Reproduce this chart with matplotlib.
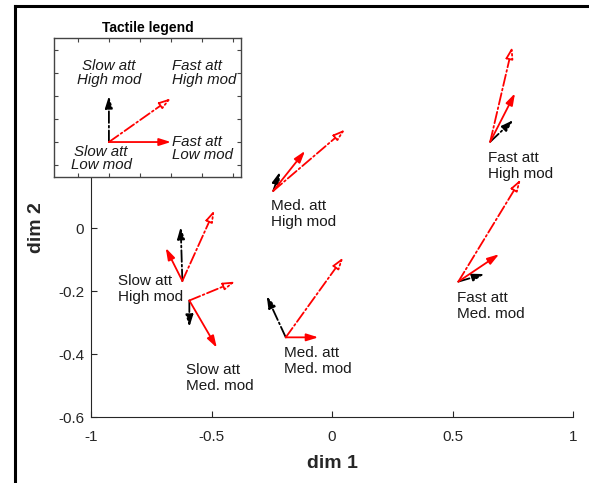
import matplotlib
matplotlib.use("Agg")
import matplotlib.pyplot as plt
from matplotlib.lines import Line2D

plt.rcParams['font.family'] = ['Liberation Sans', 'DejaVu Sans']

# condition names and where the vectors start
labels = ["Slow att\nHigh mod", "Slow att\nMed. mod", "Med. att\nHigh mod",
          "Med. att\nMed. mod", "Fast att\nMed. mod", "Fast att\nHigh mod"]
origin_x = [-0.621, -0.592, -0.244, -0.192, 0.524, 0.656]
origin_y = [-0.168, -0.230, 0.118, -0.347, -0.170, 0.274]

# arrow tips: black dash-dot (slow att, high mod)
black_x = [-0.628, -0.592, -0.216, -0.271, 0.632, 0.752]
black_y = [0.004, -0.314, 0.179, -0.216, -0.146, 0.343]
# red solid (fast att, low mod)
solid_x = [-0.690, -0.478, -0.112, -0.057, 0.693, 0.759]
solid_y = [-0.063, -0.380, 0.245, -0.347, -0.083, 0.428]
# red dash-dot (fast att, high mod)
dash_x = [-0.488, -0.402, 0.054, 0.047, 0.783, 0.748]
dash_y = [0.057, -0.170, 0.313, -0.093, 0.155, 0.576]

# label anchor points
label_x = [-0.888, -0.606, -0.254, -0.198, 0.520, 0.649]
label_y = [-0.194, -0.476, 0.044, -0.422, -0.248, 0.197]

xticks = [-1, -0.5, 0, 0.5, 1]
xticklabels = ['-1', '-0.5', '0', '0.5', '1']
yticks = [-0.6, -0.4, -0.2, 0]
yticklabels = ['-0.6', '-0.4', '-0.2', '0']

# legend panel
leg_origin = (1, 1)
leg_tips = {'black': (1, 3), 'solid': (3, 1), 'dash': (3, 2.9)}


def arrow(ax, start, end, color, ls, filled=True):
    ax.annotate('', xy=end, xytext=start,
                arrowprops=dict(arrowstyle='-|>,head_length=0.7,head_width=0.22',
                                color=color, fc=color if filled else 'white',
                                lw=1.3, ls=ls, shrinkA=0, shrinkB=0,
                                mutation_scale=10))


fig = plt.figure(figsize=(5.89, 4.83), dpi=100)

ax = fig.add_axes([0.1545, 0.1366, 0.8185, 0.7824])
for i in range(len(labels)):
    o = (origin_x[i], origin_y[i])
    arrow(ax, o, (black_x[i], black_y[i]), 'black', '-.')
    arrow(ax, o, (solid_x[i], solid_y[i]), 'red', '-')
    arrow(ax, o, (dash_x[i], dash_y[i]), 'red', '-.', filled=False)
    ax.text(label_x[i], label_y[i], labels[i], fontsize=11, ha='left',
            va='center', linespacing=1.2, color='#1a1a1a')

ax.set_xlim(-1, 1)
ax.set_ylim(-0.6, 0.6)
ax.set_xticks(xticks)
ax.set_xticklabels(xticklabels)
ax.set_yticks(yticks)
ax.set_yticklabels(yticklabels)
ax.tick_params(direction='in', length=4, labelsize=11, colors='#262626')
ax.tick_params(axis='x', pad=9)
ax.tick_params(axis='y', pad=5)
ax.spines['top'].set_visible(False)
ax.spines['right'].set_visible(False)
for s in ['left', 'bottom']:
    ax.spines[s].set_color('#262626')
    ax.spines[s].set_linewidth(0.8)
ax.set_xlabel('dim 1', fontsize=14, fontweight='bold', color='#262626', labelpad=8)
ax.set_ylabel('dim 2', fontsize=14, fontweight='bold', color='#262626', labelpad=9)

# inset legend
ins = fig.add_axes([0.0917, 0.6335, 0.3175, 0.2878])
ins.set_xlim(-0.77, 5.26)
ins.set_ylim(-0.52, 5.52)
ins.set_xticks(range(6))
ins.set_yticks(range(6))
ins.tick_params(direction='in', length=3, labelbottom=False, labelleft=False,
                top=True, right=True, colors='#444444')
for s in ins.spines.values():
    s.set_color('#444444')
    s.set_linewidth(1.0)
arrow(ins, leg_origin, leg_tips['black'], 'black', '-.')
arrow(ins, leg_origin, leg_tips['solid'], 'red', '-')
arrow(ins, leg_origin, leg_tips['dash'], 'red', '-.', filled=False)
ital = dict(style='italic', fontsize=10.8, va='center', linespacing=0.92,
            color='#1a1a1a')
ins.text(1, 4, "Slow att\nHigh mod", ha='center', **ital)
ins.text(3.05, 4, "Fast att\nHigh mod", ha='left', **ital)
ins.text(3.05, 0.72, "Fast att\nLow mod", ha='left', **ital)
ins.text(0.75, 0.3, "Slow att\nLow mod", ha='center', **ital)
ins.set_title('Tactile legend', fontsize=10, fontweight='bold', pad=4)

# frame lines at the left and top edge of the figure
fig.add_artist(Line2D([15 / 589, 15 / 589], [0, 1 - 6 / 483], color='black',
                      lw=2.2, transform=fig.transFigure))
fig.add_artist(Line2D([15 / 589, 1], [1 - 6 / 483, 1 - 6 / 483], color='black',
                      lw=2.2, transform=fig.transFigure))

fig.savefig('out.png', dpi=100)
